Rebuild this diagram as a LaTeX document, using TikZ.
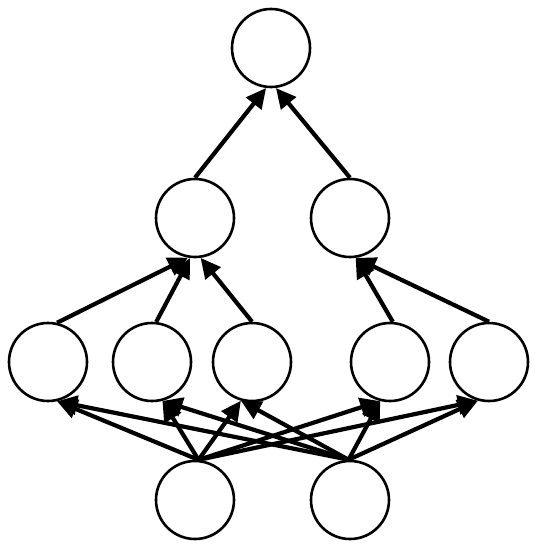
\documentclass[tikz,border=0pt]{standalone}
\usetikzlibrary{arrows.meta}
\tikzset{
  neuron/.style={circle,draw=black,line width=2.6pt,minimum size=78pt,inner sep=0pt},
  conn/.style={draw=black,line width=4.2pt,arrows={-Triangle[length=20pt,width=19pt]}}}
\begin{document}
\begin{tikzpicture}[x=1pt,y=-1pt]
\useasboundingbox (0,0) rectangle (540,548);
\node[neuron] (t) at (271,48) {};
\node[neuron] (m1) at (195,218) {};
\node[neuron] (m2) at (350,218) {};
\node[neuron] (a1) at (48,362) {};
\node[neuron] (a2) at (152,362) {};
\node[neuron] (a3) at (252,362) {};
\node[neuron] (a4) at (390,362) {};
\node[neuron] (a5) at (489,362) {};
\node[neuron] (b1) at (195,500) {};
\node[neuron] (b2) at (350,500) {};
% bottom to layer 3
\foreach \s/\a in {b1/85,b2/92}{
  \draw[conn] (\s.\a) -- (a1.-77);
  \draw[conn] (\s.\a) -- (a2.-75);
  \draw[conn] (\s.\a) -- (a3.-106);
  \draw[conn] (\s.\a) -- (a4.-104);
  \draw[conn] (\s.\a) -- (a5.-106);
}
% layer 3 to layer 2
\draw[conn] (a1.77) -- (m1.-100);
\draw[conn] (a2.84) -- (m1.-97);
\draw[conn] (a3.90) -- (m1.-82);
\draw[conn] (a4.86) -- (m2.-82);
\draw[conn] (a5.90) -- (m2.-82);
% layer 2 to top
\draw[conn] (m1.90) -- (t.-97);
\draw[conn] (m2.90) -- (t.-83);
\end{tikzpicture}
\end{document}
